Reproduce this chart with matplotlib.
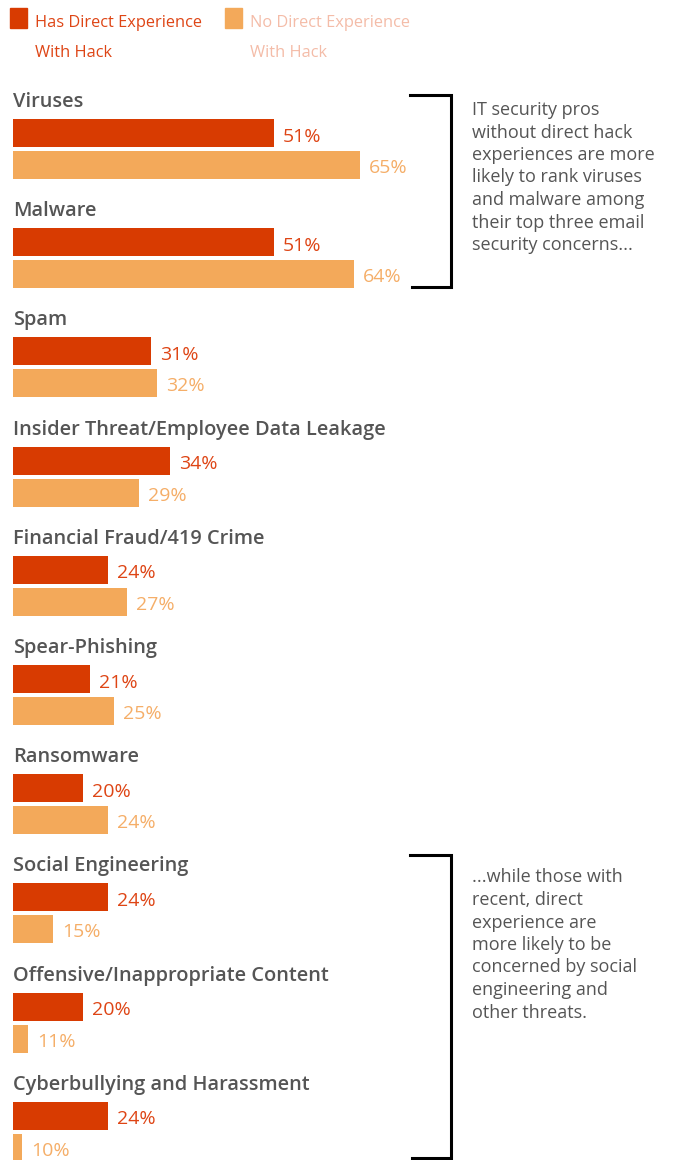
import numpy as np
import matplotlib.pyplot as plt

categories = ['Viruses', 'Malware', 'Spam', 'Insider Threat/Employee Data Leakage',
              'Financial Fraud/419 Crime', 'Spear-Phishing', 'Ransomware',
              'Social Engineering', 'Offensive/Inappropriate Content',
              'Cyberbullying and Harassment']
has_hack = [51, 51, 31, 34, 24, 21, 20, 24, 20, 24]
no_hack = [65, 64, 32, 29, 27, 25, 24, 15, 11, 10]
legend_labels = ['Has Direct Experience\nWith Hack', 'No Direct Experience\nWith Hack']
note_top = ('IT security pros\nwithout direct hack\nexperiences are more\n'
            'likely to rank viruses\nand malware among\ntheir top three email\n'
            'security concerns...')
note_bottom = ('...while those with\nrecent, direct\nexperience are\nmore likely to be\n'
               'concerned by social\nengineering and\nother threats.')

DARK = '#D83B01'
LIGHT = '#F3A95A'
DARK_TXT = '#DE4515'
LIGHT_TXT = '#F5AE68'
LEG_LIGHT_TXT = '#F4BCA8'
GRAY = '#555555'

plt.rcParams['font.family'] = ['Open Sans', 'DejaVu Sans']

W, H = 673, 1160
fig = plt.figure(figsize=(W / 100, H / 100), dpi=100)

# bar axes: value axis starts a little above zero, like the original
x_left = 13
px_per_pct = 6.15
v0 = 8.54
ax = fig.add_axes([x_left / W, 0, (W - x_left) / W, 1])
ax.set_xlim(v0, v0 + (W - x_left) / px_per_pct)
ax.set_ylim(H, 0)
ax.axis('off')

y0, pitch, bh, gap = 133, 109.2, 28, 32
y_dark = y0 + pitch * np.arange(len(categories))
y_light = y_dark + gap

ax.barh(y_dark, has_hack, height=bh, color=DARK)
ax.barh(y_light, no_hack, height=bh, color=LIGHT)

off = 9 / px_per_pct
for yd, yl, a, b, cat in zip(y_dark, y_light, has_hack, no_hack, categories):
    ax.text(v0, yd - bh / 2 - 12, cat, fontsize=14.4, fontweight='semibold',
            color=GRAY, va='baseline', ha='left')
    ax.text(a + off, yd + 8.5, f'{a}%', fontsize=14, color=DARK_TXT, va='baseline')
    ax.text(b + off, yl + 8, f'{b}%', fontsize=14, color=LIGHT_TXT, va='baseline')

# overlay in pixel coordinates for legend, brackets and notes
ov = fig.add_axes([0, 0, 1, 1])
ov.set_xlim(0, W)
ov.set_ylim(H, 0)
ov.axis('off')

for x, c, tc, lab in [(10, DARK, DARK_TXT, legend_labels[0]),
                      (225, LIGHT, LEG_LIGHT_TXT, legend_labels[1])]:
    ov.add_patch(plt.Rectangle((x, 8), 17, 20, color=c))
    for k, line in enumerate(lab.split('\n')):
        ov.text(x + 25, 27 + 30 * k, line, fontsize=11.8, color=tc, va='baseline')

for top, bot in [(95, 287), (855, 1158)]:
    ov.plot([410, 451, 451, 412], [top, top, bot, bot], color='black', lw=2.2,
            solid_joinstyle='miter')

for base, note in [(115, note_top), (882.5, note_bottom)]:
    for k, line in enumerate(note.split('\n')):
        ov.text(472, base + 22.5 * k, line, fontsize=13, color=GRAY, va='baseline')

fig.savefig('out.png', dpi=100)
